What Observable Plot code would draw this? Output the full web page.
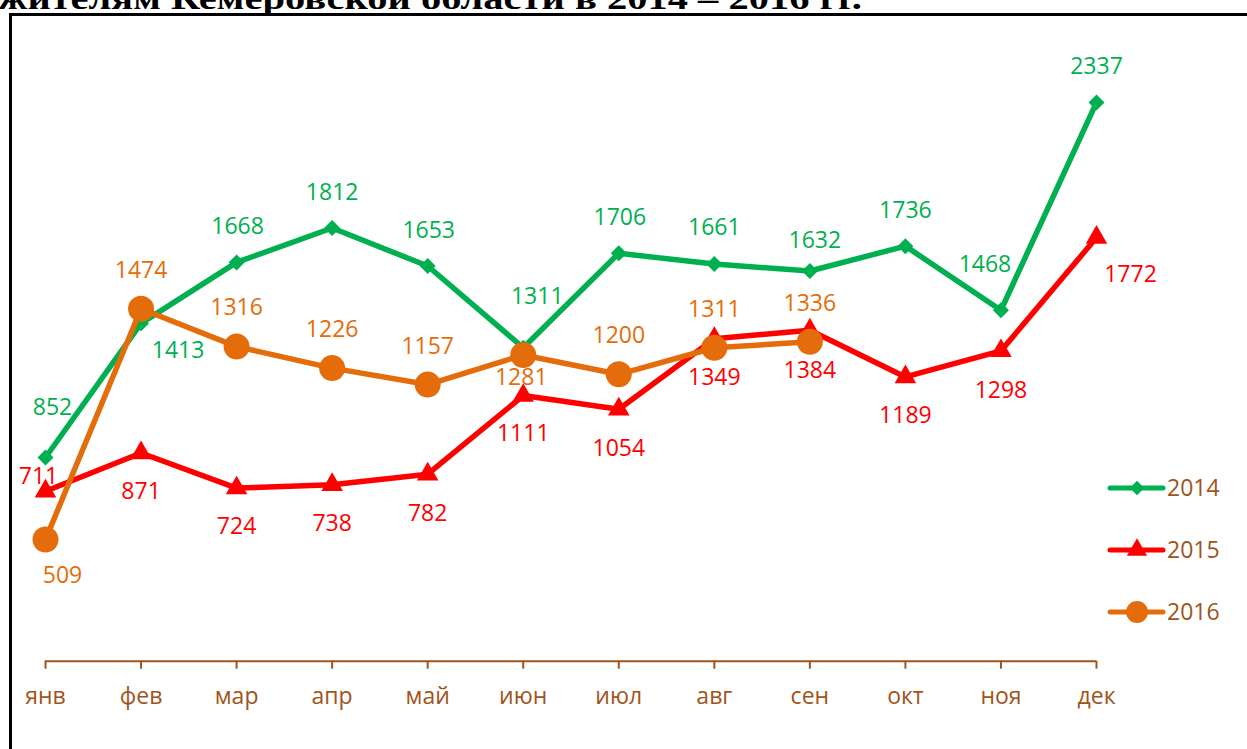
<!DOCTYPE html>
<html>
<head>
<meta charset="utf-8">
<script src="https://cdn.jsdelivr.net/npm/d3@7"></script>
<script src="https://cdn.jsdelivr.net/npm/@observablehq/plot@0.6"></script>
<style>
  body { margin: 0; background: #fff; }
  #wrap { position: relative; width: 1247px; height: 749px; overflow: hidden; background: #fff; }
  #frame { position: absolute; left: 9px; top: 13px; width: 1300px; height: 800px; border: 3px solid #000; box-sizing: border-box; }
  #chart, #title, #legend { position: absolute; left: 0; top: 0; }
</style>
</head>
<body>
<div id="wrap">
  <div id="frame"></div>
  <div id="chart"></div>
  <svg id="legend" width="1247" height="749"></svg>
  <svg id="title" width="1247" height="20"></svg>
</div>
<script>
// ---- data ----
const months = ["янв","фев","мар","апр","май","июн","июл","авг","сен","окт","ноя","дек"];
const years = ["2014","2015","2016"];
const v2014 = [852,1413,1668,1812,1653,1311,1706,1661,1632,1736,1468,2337];
const v2015 = [711,871,724,738,782,1111,1054,1349,1384,1189,1298,1772];
const v2016 = [509,1474,1316,1226,1157,1281,1200,1311,1336];
const titleText = "жителям Кемеровской области в 2014 – 2016 гг.";

// ---- label placement (offsets from the point, px) ----
const lab2014 = [[7,-50],[37,27],[1,-36],[0,-35],[1,-35],[14,-51],[1,-36],[0,-36],[5,-30],[0,-36],[-16,-46],[0,-36]];
const lab2015 = [[-7,-15],[0,39],[0,39],[0,39],[0,39],[0,38],[0,39],[0,39],[0,40],[0,39],[0,40],[34,37]];
const lab2016 = [[17,36],[0,-38],[0,-39],[0,-38],[0,-38],[-2,23],[0,-39],[0,-38],[0,-38]];

// ---- styles ----
const colors = {"2014": "#00B050", "2015": "#FF0000", "2016": "#E46C0A"};
const symbols = {"2014": "diamond2", "2015": "triangle", "2016": "circle"};
const radii = {"2014": 7.2, "2015": 8, "2016": 13};
const brown = "#A0541A";
const font = "'Open Sans', 'Noto Sans', sans-serif";

const seriesVals = {"2014": v2014, "2015": v2015, "2016": v2016};
const seriesLab = {"2014": lab2014, "2015": lab2015, "2016": lab2016};

const rows = [];
for (const yr of years) {
  seriesVals[yr].forEach((v, i) => rows.push({year: yr, month: months[i], value: v, dx: seriesLab[yr][i][0], dy: seriesLab[yr][i][1]}));
}

const marks = [
  Plot.ruleY([0], {x1: () => months[0], x2: () => months[months.length - 1], stroke: brown, strokeWidth: 2}),
  Plot.axisX({tickSize: 8, tickPadding: 18, fontSize: 23, stroke: brown, fill: brown, strokeWidth: 2, label: null})
];
for (const yr of years) {
  const data = rows.filter(d => d.year === yr);
  marks.push(Plot.line(data, {x: "month", y: "value", stroke: colors[yr], strokeWidth: 5.5, strokeLinejoin: "round", strokeLinecap: "round"}));
  marks.push(Plot.dot(data, {x: "month", y: "value", symbol: symbols[yr], r: radii[yr], fill: colors[yr], stroke: "none"}));
}
for (const d of rows) {
  marks.push(Plot.text([d], {x: "month", y: "value", text: r => String(r.value), dx: d.dx, dy: d.dy, fill: colors[d.year], fontSize: 23}));
}

const chart = Plot.plot({
  width: 1247,
  height: 749,
  marginLeft: 45,
  marginRight: 151,
  marginTop: 63,
  marginBottom: 88.3,
  style: {background: "transparent", fontFamily: font, overflow: "visible"},
  x: {type: "point", domain: months, padding: 0, round: false, label: null},
  y: {domain: [0, 2500], axis: null},
  marks
});
document.getElementById("chart").appendChild(chart);

// ---- legend ----
const lg = d3.select("#legend");
const symMap = {"diamond2": d3.symbolDiamond2, "triangle": d3.symbolTriangle, "circle": d3.symbolCircle};
const legendR = {"2014": 6.5, "2015": 7.5, "2016": 11};
years.forEach((yr, i) => {
  const y = 488 + i * 62;
  const g = lg.append("g");
  g.append("line").attr("x1", 1110).attr("x2", 1163).attr("y1", y).attr("y2", y)
    .attr("stroke", colors[yr]).attr("stroke-width", 5).attr("stroke-linecap", "round");
  g.append("path").attr("transform", `translate(1137,${y})`)
    .attr("d", d3.symbol(symMap[symbols[yr]], Math.PI * legendR[yr] * legendR[yr])())
    .attr("fill", colors[yr]);
  g.append("text").attr("x", 1167).attr("y", y).attr("dy", "0.35em")
    .attr("fill", brown).attr("font-family", font).attr("font-size", 23).text(yr);
});

// ---- title (last line, cut off by the top edge as in the original) ----
d3.select("#title").append("text")
  .attr("x", -2).attr("y", 9)
  .attr("textLength", 864).attr("lengthAdjust", "spacingAndGlyphs")
  .attr("font-family", "'Liberation Serif', serif").attr("font-weight", "bold").attr("font-size", 31)
  .attr("fill", "#000").text(titleText);
</script>
</body>
</html>
